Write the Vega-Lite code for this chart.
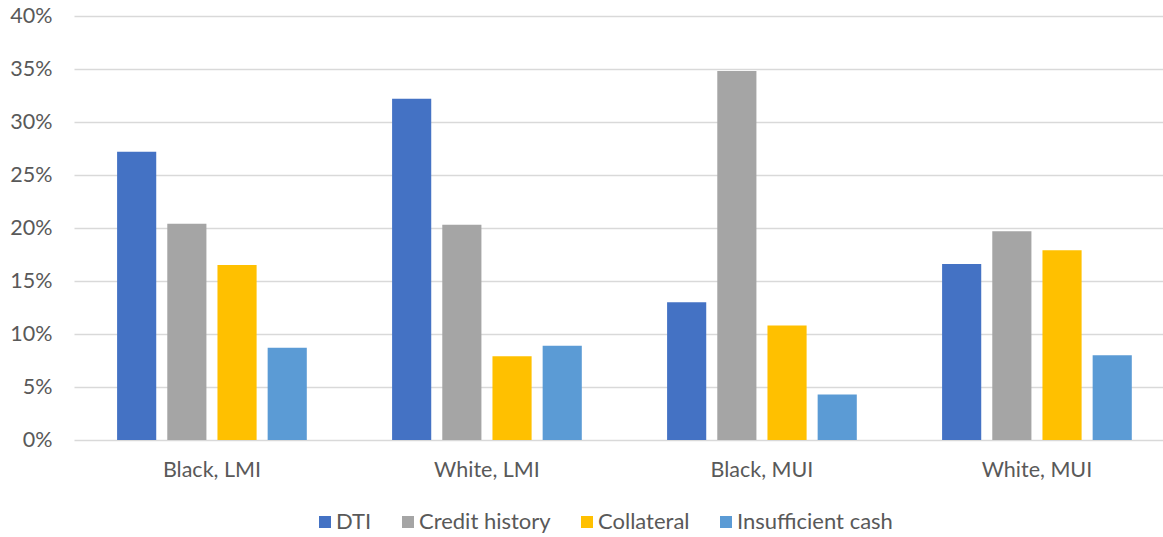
{
  "$schema": "https://vega.github.io/schema/vega-lite/v6.json",
  "autosize": "none",
  "padding": {"left": 74, "top": 16, "right": 0, "bottom": 97},
  "width": 1089,
  "height": 424,
  "background": "white",
  "config": {
    "view": {"stroke": null},
    "font": "Lato",
    "axis": {"labelColor": "#595959", "labelFont": "Lato", "labelFontSize": 21.5}
  },
  "data": {
    "values": [
      {"group": "Black, LMI", "reason": "DTI", "value": 0.272},
      {"group": "Black, LMI", "reason": "Credit history", "value": 0.204},
      {"group": "Black, LMI", "reason": "Collateral", "value": 0.165},
      {"group": "Black, LMI", "reason": "Insufficient cash", "value": 0.087},
      {"group": "White, LMI", "reason": "DTI", "value": 0.322},
      {"group": "White, LMI", "reason": "Credit history", "value": 0.203},
      {"group": "White, LMI", "reason": "Collateral", "value": 0.079},
      {"group": "White, LMI", "reason": "Insufficient cash", "value": 0.089},
      {"group": "Black, MUI", "reason": "DTI", "value": 0.130},
      {"group": "Black, MUI", "reason": "Credit history", "value": 0.348},
      {"group": "Black, MUI", "reason": "Collateral", "value": 0.108},
      {"group": "Black, MUI", "reason": "Insufficient cash", "value": 0.043},
      {"group": "White, MUI", "reason": "DTI", "value": 0.166},
      {"group": "White, MUI", "reason": "Credit history", "value": 0.197},
      {"group": "White, MUI", "reason": "Collateral", "value": 0.179},
      {"group": "White, MUI", "reason": "Insufficient cash", "value": 0.080}
    ]
  },
  "mark": {"type": "bar"},
  "encoding": {
    "x": {
      "field": "group",
      "type": "nominal",
      "sort": ["Black, LMI", "White, LMI", "Black, MUI", "White, MUI"],
      "scale": {"paddingInner": 0.27, "paddingOuter": 0.115, "align": 0.594},
      "axis": {"title": null, "labelAngle": 0, "ticks": false, "domain": false, "labelPadding": 19}
    },
    "xOffset": {
      "field": "reason",
      "type": "nominal",
      "sort": ["DTI", "Credit history", "Collateral", "Insufficient cash"],
      "scale": {"paddingInner": 0.22, "paddingOuter": 0.11}
    },
    "y": {
      "field": "value",
      "type": "quantitative",
      "scale": {"domain": [0, 0.4], "nice": false},
      "axis": {
        "title": null,
        "format": ".0%",
        "values": [0, 0.05, 0.1, 0.15, 0.2, 0.25, 0.3, 0.35, 0.4],
        "ticks": false,
        "domain": false,
        "labelPadding": 22,
        "gridColor": "#D9D9D9",
        "gridWidth": 1.3
      }
    },
    "color": {
      "field": "reason",
      "type": "nominal",
      "sort": ["DTI", "Credit history", "Collateral", "Insufficient cash"],
      "scale": {
        "domain": ["DTI", "Credit history", "Collateral", "Insufficient cash"],
        "range": ["#4472C4", "#A5A5A5", "#FFC000", "#5B9BD5"]
      },
      "legend": {
        "title": null,
        "orient": "none",
        "direction": "horizontal",
        "legendX": 240,
        "legendY": 495,
        "symbolType": "square",
        "symbolSize": 144,
        "symbolStrokeWidth": 0,
        "labelFontSize": 22,
        "labelColor": "#595959",
        "labelFont": "Lato",
        "labelOffset": 0,
        "columnPadding": 25
      }
    }
  }
}
